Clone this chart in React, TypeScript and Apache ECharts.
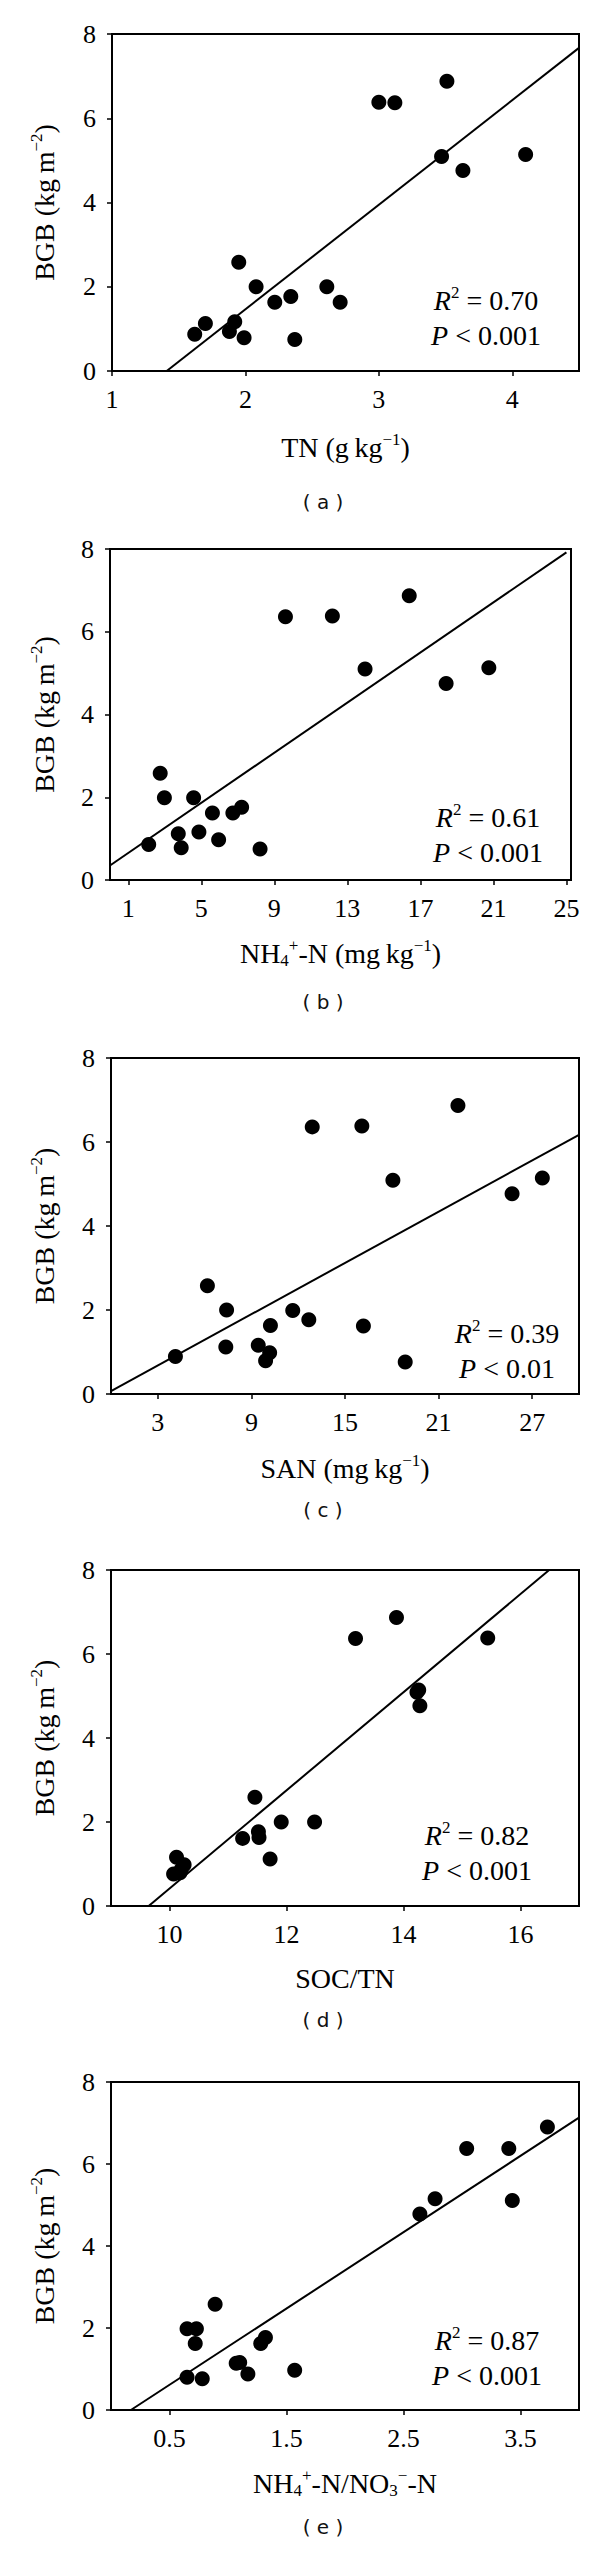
import React, { useEffect, useRef } from "react";
import * as echarts from "echarts";

// ---------- tick labels ----------
const yTicks = [0, 2, 4, 6, 8];
const tnTicks = [1, 2, 3, 4];
const nhTicks = [1, 5, 9, 13, 17, 21, 25];
const sanTicks = [3, 9, 15, 21, 27];
const socTicks = [10, 12, 14, 16];
const ratioTicks = [0.5, 1.5, 2.5, 3.5];

// ---------- data (BGB, kg m^-2 vs. soil variables) ----------
const tnX = [1.62, 1.7, 1.88, 1.92, 1.95, 1.99, 2.08, 2.22, 2.34, 2.37, 2.61, 2.71, 3.0, 3.12, 3.51, 3.47, 3.63, 4.1];
const tnY = [0.87, 1.13, 0.94, 1.17, 2.58, 0.79, 2.0, 1.63, 1.77, 0.75, 2.0, 1.63, 6.38, 6.37, 6.88, 5.09, 4.76, 5.14];

const nhX = [2.12, 2.75, 2.98, 3.74, 3.9, 4.58, 4.87, 5.61, 5.95, 6.73, 7.21, 8.22, 9.61, 12.18, 13.97, 16.39, 18.41, 20.75];
const nhY = [0.86, 2.58, 1.99, 1.12, 0.78, 1.99, 1.16, 1.62, 0.97, 1.62, 1.76, 0.75, 6.36, 6.38, 5.1, 6.87, 4.75, 5.13];

const sanX = [4.13, 6.18, 7.41, 7.36, 9.44, 9.91, 10.17, 10.22, 11.65, 12.68, 12.9, 16.08, 16.18, 18.07, 18.86, 22.24, 25.71, 27.65];
const sanY = [0.89, 2.58, 2.0, 1.12, 1.16, 0.79, 0.98, 1.63, 1.99, 1.77, 6.36, 6.38, 1.62, 5.09, 0.76, 6.87, 4.77, 5.14];

const socX = [10.07, 10.12, 10.18, 10.25, 10.2, 11.25, 11.46, 11.52, 11.53, 11.72, 11.91, 12.48, 13.18, 13.88, 14.23, 14.26, 14.28, 15.44];
const socY = [0.76, 1.16, 0.79, 0.98, 0.87, 1.61, 2.59, 1.77, 1.63, 1.12, 2.0, 2.0, 6.37, 6.87, 5.09, 5.14, 4.77, 6.38];

const ratioX = [0.65, 0.65, 0.73, 0.72, 0.78, 0.89, 1.07, 1.1, 1.17, 1.28, 1.32, 1.57, 2.64, 2.77, 3.04, 3.4, 3.43, 3.73];
const ratioY = [0.8, 1.98, 1.98, 1.62, 0.76, 2.58, 1.14, 1.16, 0.88, 1.62, 1.77, 0.97, 4.78, 5.15, 6.38, 6.38, 5.11, 6.9];

// regression lines (end points)
const fitTN = [[1.41, 0], [4.5, 7.67]];
const fitNH = [[0, 0.35], [25, 7.92]];
const fitSAN = [[0, 0.07], [30, 6.17]];
const fitSOC = [[9.644, 0], [16.49, 8]];
const fitRatio = [[0.17, 0], [4.0, 7.13]];

const r2Values = ["0.70", "0.61", "0.39", "0.82", "0.87"];
const pValues = ["0.001", "0.001", "0.01", "0.001", "0.001"];
const panelLetters = ["a", "b", "c", "d", "e"];

const xTitles = [
  "{n|TN (g\u2009kg}{sup|\u22121}{n|)}",
  "{n|NH}{sub|4}{sup|+}{n|-N (mg\u2009kg}{sup|\u22121}{n|)}",
  "{n|SAN (mg\u2009kg}{sup|\u22121}{n|)}",
  "{n|SOC/TN}",
  "{n|NH}{sub|4}{sup|+}{n|-N/NO}{sub|3}{sup|\u2212}{n|-N}",
];

// ---------- layout ----------
const SERIF = "Liberation Serif";
const panels = [
  { x: tnX, y: tnY, fit: fitTN, ticks: tnTicks, min: 1, max: 4.5, left: 112, right: 579, top: 34, bottom: 371, titleY: 447, letterY: 502, annX: 486, annY: 300 },
  { x: nhX, y: nhY, fit: fitNH, ticks: nhTicks, min: 0, max: 25.25, left: 110, right: 571, top: 549, bottom: 880, titleY: 953, letterY: 1002, annX: 488, annY: 817 },
  { x: sanX, y: sanY, fit: fitSAN, ticks: sanTicks, min: 0, max: 30, left: 111, right: 579, top: 1058, bottom: 1394, titleY: 1468, letterY: 1510, annX: 507, annY: 1333 },
  { x: socX, y: socY, fit: fitSOC, ticks: socTicks, min: 9, max: 17, left: 111, right: 579, top: 1570, bottom: 1906, titleY: 1978, letterY: 2020, annX: 477, annY: 1835 },
  { x: ratioX, y: ratioY, fit: fitRatio, ticks: ratioTicks, min: 0, max: 4, left: 111, right: 579, top: 2082, bottom: 2410, titleY: 2483, letterY: 2527, annX: 487, annY: 2340 },
];

const richText = {
  n: { fontSize: 28, fontFamily: SERIF, lineHeight: 32, verticalAlign: "middle", fill: "#000" },
  i: { fontSize: 28, fontFamily: SERIF, fontStyle: "italic", lineHeight: 32, verticalAlign: "middle", fill: "#000" },
  sup: { fontSize: 17, fontFamily: SERIF, lineHeight: 14, verticalAlign: "top", fill: "#000" },
  sub: { fontSize: 17, fontFamily: SERIF, lineHeight: 14, verticalAlign: "bottom", fill: "#000" },
};

function buildOption() {
  const grid = panels.map((p) => ({
    left: p.left,
    top: p.top,
    width: p.right - p.left,
    height: p.bottom - p.top,
    show: true,
    borderColor: "#000",
    borderWidth: 2,
    backgroundColor: "transparent",
    containLabel: false,
    outerBoundsMode: "none",
  }));

  const xAxis = panels.map((p, i) => ({
    gridIndex: i,
    type: "value",
    min: p.min,
    max: p.max,
    axisLine: { show: true, onZero: false, lineStyle: { color: "#000", width: 2 } },
    axisTick: { show: true, inside: false, length: 5, customValues: p.ticks, lineStyle: { color: "#000", width: 1.5 } },
    axisLabel: {
      show: true,
      customValues: p.ticks,
      margin: 15,
      color: "#000",
      fontSize: 26,
      fontFamily: SERIF,
      formatter: (v: number) => String(v),
    },
    splitLine: { show: false },
  }));

  const yAxis = panels.map((_p, i) => ({
    gridIndex: i,
    type: "value",
    min: yTicks[0],
    max: yTicks[yTicks.length - 1],
    interval: 2,
    axisLine: { show: true, onZero: false, lineStyle: { color: "#000", width: 2 } },
    axisTick: { show: true, inside: false, length: 5, lineStyle: { color: "#000", width: 1.5 } },
    axisLabel: { show: true, margin: 16, color: "#000", fontSize: 26, fontFamily: SERIF },
    splitLine: { show: false },
  }));

  const series: any[] = [];
  panels.forEach((p, i) => {
    series.push({
      type: "line",
      xAxisIndex: i,
      yAxisIndex: i,
      data: p.fit,
      symbol: "none",
      lineStyle: { color: "#000", width: 2 },
      silent: true,
      z: 2,
    });
    series.push({
      type: "scatter",
      xAxisIndex: i,
      yAxisIndex: i,
      data: p.x.map((v, k) => [v, p.y[k]]),
      symbol: "circle",
      symbolSize: 15,
      itemStyle: { color: "#000", opacity: 1 },
      z: 3,
    });
  });

  const graphic: any[] = [];
  panels.forEach((p, i) => {
    const cy = (p.top + p.bottom) / 2;
    const cx = (p.left + p.right) / 2;
    graphic.push({
      type: "text",
      x: 44,
      y: cy,
      rotation: Math.PI / 2,
      style: {
        text: "{n|BGB (kg\u2009m}{sup|\u22122}{n|)}",
        rich: richText,
        align: "center",
        verticalAlign: "middle",
      },
    });
    graphic.push({
      type: "text",
      x: cx,
      y: p.titleY,
      style: { text: xTitles[i], rich: richText, align: "center", verticalAlign: "middle" },
    });
    graphic.push({
      type: "text",
      x: p.annX,
      y: p.annY,
      style: { text: "{i|R}{sup|2}{n| = " + r2Values[i] + "}", rich: richText, align: "center", verticalAlign: "middle" },
    });
    graphic.push({
      type: "text",
      x: p.annX,
      y: p.annY + 35,
      style: { text: "{i|P}{n| < " + pValues[i] + "}", rich: richText, align: "center", verticalAlign: "middle" },
    });
    graphic.push({
      type: "text",
      x: 323,
      y: p.letterY,
      style: {
        text: "( " + panelLetters[i] + " )",
        fontSize: 20,
        fontFamily: "DejaVu Sans",
        fill: "#111",
        align: "center",
        verticalAlign: "middle",
      },
    });
  });

  return {
    animation: false,
    backgroundColor: "#fff",
    grid,
    xAxis,
    yAxis,
    series,
    graphic,
  };
}

export default function App() {
  const ref = useRef<HTMLDivElement>(null);
  useEffect(() => {
    document.body.style.margin = "0";
    const chart = echarts.init(ref.current as HTMLDivElement, null, { renderer: "svg" });
    chart.setOption(buildOption() as any);
    return () => chart.dispose();
  }, []);
  return <div ref={ref} style={{ width: 600, height: 2563 }} />;
}
